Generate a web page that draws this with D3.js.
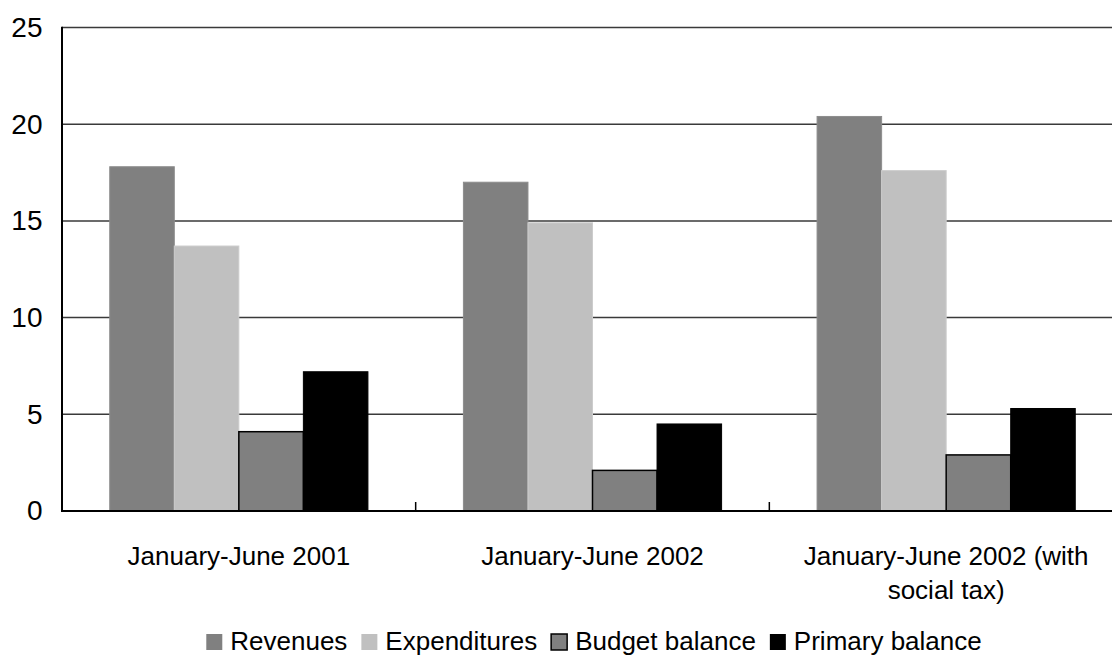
<!DOCTYPE html>
<html>
<head>
<meta charset="utf-8">
<script src="https://cdn.jsdelivr.net/npm/d3@7"></script>
<style>
  html, body { margin: 0; padding: 0; background: #fff; }
  svg { display: block; }
  text { font-family: "Liberation Sans", Arial, Helvetica, sans-serif; fill: #000; }
</style>
</head>
<body>
<svg id="chart" width="1112" height="656"></svg>
<script>
// Category labels (x axis)
const categories = ["January-June 2001", "January-June 2002", "January-June 2002 (with social tax)"];

// Series names (legend order) and values, % of GDP
const seriesNames = ["Revenues", "Expenditures", "Budget balance", "Primary balance"];
const revenues = [17.8, 17.0, 20.4];
const expenditures = [13.7, 14.9, 17.6];
const budgetBalance = [4.1, 2.1, 2.9];
const primaryBalance = [7.2, 4.5, 5.3];

// Y axis tick labels
const yTicks = [0, 5, 10, 15, 20, 25];

const seriesValues = [revenues, expenditures, budgetBalance, primaryBalance];
const fills = ["#808080", "#c0c0c0", "#808080", "#000000"];
const strokes = ["#8c8c8c", "#cccccc", "#000000", "#000000"];
const strokeWidths = [1, 1, 1.5, 1];

const rows = categories.map((c, i) => ({
  category: c,
  values: seriesNames.map((s, k) => ({ series: s, k, value: seriesValues[k][i] }))
}));

const svg = d3.select("#chart");
const W = 1112, H = 656;
svg.append("rect").attr("width", W).attr("height", H).attr("fill", "#fff");

// Plot frame: right edge runs past the visible area
const plot = { left: 62, right: 1123, top: 27.5, bottom: 511 };

const x0 = d3.scaleBand()
  .domain(categories)
  .range([plot.left, plot.right])
  .paddingInner(0).paddingOuter(0);

const x1 = d3.scaleBand()
  .domain(seriesNames)
  .range([x0.bandwidth() * 0.135, x0.bandwidth() * 0.865])
  .padding(0);

const y = d3.scaleLinear().domain([0, 25]).range([plot.bottom, plot.top]);

// Horizontal gridlines
svg.append("g")
  .selectAll("line")
  .data(yTicks.filter(t => t > 0))
  .join("line")
  .attr("x1", plot.left).attr("x2", plot.right)
  .attr("y1", d => y(d)).attr("y2", d => y(d))
  .attr("stroke", "#3a3a3a").attr("stroke-width", 1.5);

// Bars
const groups = svg.append("g")
  .selectAll("g")
  .data(rows)
  .join("g")
  .attr("transform", d => `translate(${x0(d.category)},0)`);

groups.selectAll("rect")
  .data(d => d.values)
  .join("rect")
  .attr("x", d => x1(d.series))
  .attr("width", x1.bandwidth())
  .attr("y", d => y(d.value))
  .attr("height", d => y(0) - y(d.value))
  .attr("fill", d => fills[d.k])
  .attr("stroke", d => strokes[d.k])
  .attr("stroke-width", d => strokeWidths[d.k]);

// Y axis with labels
const yAxis = d3.axisLeft(y).tickValues(yTicks).tickSize(0).tickPadding(19.5).tickFormat(d3.format("d"));
const gy = svg.append("g").attr("transform", `translate(${plot.left},0)`).call(yAxis);
gy.select(".domain").remove();
gy.selectAll("text").attr("font-size", 28).attr("fill", "#000");
svg.append("line")
  .attr("x1", plot.left).attr("x2", plot.left)
  .attr("y1", plot.top - 0.75).attr("y2", plot.bottom + 1)
  .attr("stroke", "#000").attr("stroke-width", 2);

// X axis: baseline, inward ticks at category boundaries, wrapped labels
const xAxis = d3.axisBottom(x0).tickSize(0).tickPadding(0);
const gx = svg.append("g").attr("transform", `translate(0,${plot.bottom})`).call(xAxis);
gx.select(".domain").remove();
svg.append("line")
  .attr("x1", plot.left).attr("x2", plot.right)
  .attr("y1", plot.bottom).attr("y2", plot.bottom)
  .attr("stroke", "#000").attr("stroke-width", 2);
svg.append("g")
  .selectAll("line")
  .data(categories.slice(1))
  .join("line")
  .attr("x1", d => x0(d)).attr("x2", d => x0(d))
  .attr("y1", plot.bottom).attr("y2", plot.bottom - 9)
  .attr("stroke", "#000").attr("stroke-width", 1.5);

const maxLabelWidth = x0.bandwidth() * 0.9;
gx.selectAll(".tick text")
  .attr("font-size", 26)
  .attr("fill", "#000")
  .attr("y", 0).attr("dy", null)
  .each(function (d) {
    const t = d3.select(this);
    const words = d.split(/\s+/);
    t.text(null);
    let lines = [], line = [];
    let tspan = t.append("tspan");
    words.forEach(w => {
      line.push(w);
      tspan.text(line.join(" "));
      if (tspan.node().getComputedTextLength() > maxLabelWidth && line.length > 1) {
        line.pop();
        lines.push(line.join(" "));
        line = [w];
        tspan.text(w);
      }
    });
    lines.push(line.join(" "));
    t.text(null);
    lines.forEach((l, i) => {
      t.append("tspan").attr("x", 0).attr("y", 54 + i * 34).text(l);
    });
  });

// Legend, centred under the plot
const legend = svg.append("g");
const swatch = 16, gapText = 8, gapItem = 14, legendBaseline = 650;
const items = legend.selectAll("g")
  .data(seriesNames)
  .join("g");
items.append("rect")
  .attr("y", legendBaseline - swatch)
  .attr("width", swatch).attr("height", swatch)
  .attr("fill", (d, i) => fills[i])
  .attr("stroke", (d, i) => i === 2 ? "#000" : "none")
  .attr("stroke-width", 1.5);
items.append("text")
  .attr("x", swatch + gapText)
  .attr("y", legendBaseline)
  .attr("font-size", 26)
  .text(d => d);
let cursor = 0;
const offsets = [];
items.each(function () {
  const w = d3.select(this).select("text").node().getComputedTextLength();
  offsets.push(cursor);
  cursor += swatch + gapText + w + gapItem;
});
const totalW = cursor - gapItem;
const legendLeft = (plot.left + plot.right) / 2 + 1.5 - totalW / 2;
items.attr("transform", (d, i) => `translate(${legendLeft + offsets[i]},0)`);
</script>
</body>
</html>
